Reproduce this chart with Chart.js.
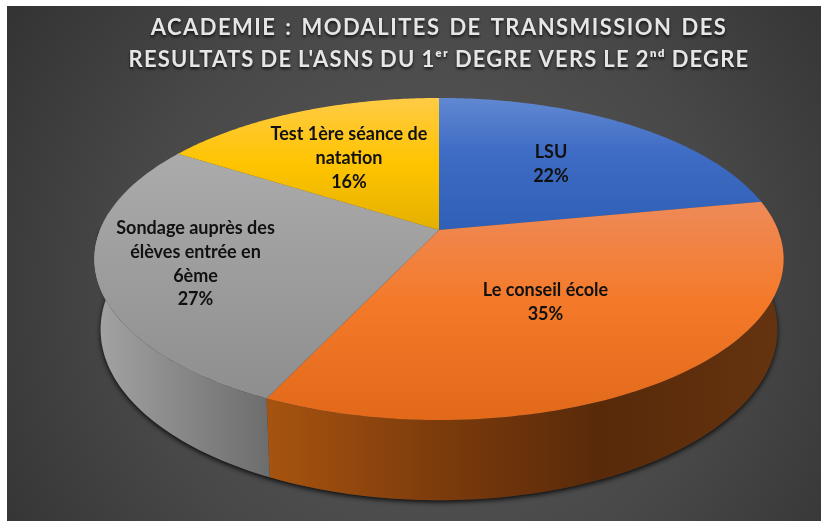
<!DOCTYPE html>
<html><head><meta charset="utf-8">
<style>html,body{margin:0;padding:0;background:#fff}canvas{display:block}</style>
<script src="https://cdn.jsdelivr.net/npm/chart.js@4"></script>
</head><body><canvas id="c" width="821" height="521"></canvas>
<script>
const categories = ["LSU", "Le conseil école", "Sondage auprès des élèves entrée en 6ème", "Test 1ère séance de natation"];
const values = [22, 35, 27, 16];
const titleLines = ["ACADEMIE : MODALITES DE TRANSMISSION DES", "RESULTATS DE L'ASNS DU 1ᵉʳ DEGRE VERS LE 2ⁿᵈ DEGRE"];
const labelLines = [["LSU"], ["Le conseil école"], ["Sondage auprès des", "élèves entrée en", "6ème"], ["Test 1ère séance de", "natation"]];

// perspective view of the pie: top disc and lower disc
const VIEW = {cx: 439, cy: 230, rx: 339, ry: 155.8, k: 0.18, shrink: 0.982, yScale: 1.06, yShift: 55};
const PANEL = {x: 7, y: 6, w: 814, h: 515};
function upper(a, r) {
  const u = Math.cos(a) * r, v = Math.sin(a) * r, d = 1 - VIEW.k * v;
  return [VIEW.cx + VIEW.rx * u / d, VIEW.cy + VIEW.ry * v / d];
}
function lower(a) {
  const p = upper(a, 1);
  return [VIEW.cx + (p[0] - VIEW.cx) * VIEW.shrink, p[1] * VIEW.yScale + VIEW.yShift];
}
function grad(ctx, x0, y0, x1, y1, stops) {
  const g = ctx.createLinearGradient(x0, y0, x1, y1);
  stops.forEach(s => g.addColorStop(s[0], s[1]));
  return g;
}
const topStops = [
  [[0,"#6088d2"],[0.4,"#3f6cc4"],[1,"#2f5fb6"]],
  [[0,"#ee8a58"],[0.45,"#f47a2a"],[1,"#e2691a"]],
  [[0,"#ababab"],[1,"#8e8e8e"]],
  [[0,"#ffcb45"],[0.5,"#ffc400"],[1,"#e3b000"]]
];
const topRange = [[98,231],[203,420],[154,398],[98,231]];
const sideStops = {
  1: [[272,"#a6530f"],[440,"#7c3b0c"],[600,"#582a0a"],[780,"#65330f"]],
  2: [[100,"#a2a2a2"],[190,"#858585"],[272,"#6c6c6c"]]
};
Chart.ArcElement.prototype.draw = function (ctx) {
  const {startAngle, endAngle} = this.getProps(['startAngle', 'endAngle'], true);
  const i = this.$context.dataIndex;
  ctx.save();
  ctx.beginPath();
  ctx.moveTo(VIEW.cx, VIEW.cy);
  const n = 90;
  for (let s = 0; s <= n; s++) {
    const p = upper(startAngle + (endAngle - startAngle) * s / n, 1);
    ctx.lineTo(p[0], p[1]);
  }
  ctx.closePath();
  ctx.fillStyle = grad(ctx, 0, topRange[i][0], 0, topRange[i][1], topStops[i]);
  ctx.fill();
  ctx.restore();
};
const pie3d = {
  id: 'pie3d',
  beforeDraw(chart) {
    const c = chart.ctx;
    c.save();
    c.fillStyle = '#fff';
    c.fillRect(0, 0, 821, 521);
    const g = c.createRadialGradient(430, 290, 40, 430, 290, 560);
    g.addColorStop(0, '#585858');
    g.addColorStop(0.5, '#484848');
    g.addColorStop(1, '#2e2e2e');
    c.fillStyle = g;
    c.fillRect(PANEL.x, PANEL.y, PANEL.w, PANEL.h);
    // title
    c.font = 'bold 22px Lato';
    c.textAlign = 'center';
    c.textBaseline = 'middle';
    c.fillStyle = '#e6e6e6';
    c.shadowColor = 'rgba(0,0,0,.75)';
    c.shadowBlur = 3;
    c.shadowOffsetY = 2;
    const tStyle = [{ls: '1.45px', ws: '2.2px', y: 28}, {ls: '1.2px', ws: '-0.7px', y: 60}];
    titleLines.forEach((t, i) => {
      c.letterSpacing = tStyle[i].ls;
      c.wordSpacing = tStyle[i].ws;
      c.fillText(t, 439, tStyle[i].y);
    });
    c.restore();
  },
  beforeDatasetsDraw(chart) {
    const c = chart.ctx;
    const arcs = chart.getDatasetMeta(0).data;
    const n = 60;
    c.save();
    c.shadowColor = 'rgba(0,0,0,.85)'; c.shadowBlur = 5; c.shadowOffsetY = 2;
    c.fillStyle = '#333';
    c.beginPath();
    for (let s = 0; s <= 180; s++) {
      const p = lower(s * Math.PI / 180);
      s ? c.lineTo(p[0], p[1]) : c.moveTo(p[0], p[1]);
    }
    c.lineTo(upper(Math.PI, 1)[0], upper(Math.PI, 1)[1]);
    c.lineTo(upper(0, 1)[0], upper(0, 1)[1]);
    c.closePath();
    c.fill();
    c.restore();
    [1, 2].forEach(i => {
      const a0 = arcs[i].startAngle, a1 = arcs[i].endAngle;
      const st = sideStops[i];
      const g = c.createLinearGradient(st[0][0], 0, st[st.length - 1][0], 0);
      st.forEach(s => g.addColorStop((s[0] - st[0][0]) / (st[st.length - 1][0] - st[0][0]), s[1]));
      c.fillStyle = g;
      c.beginPath();
      const from = Math.max(a0, -0.12), to = Math.min(a1, Math.PI + 0.12);
      for (let s = 0; s <= n; s++) {
        const p = upper(from + (to - from) * s / n, 1);
        s ? c.lineTo(p[0], p[1]) : c.moveTo(p[0], p[1]);
      }
      for (let s = n; s >= 0; s--) {
        const p = lower(from + (to - from) * s / n);
        c.lineTo(p[0], p[1]);
      }
      c.closePath();
      c.fill();
    });
  },
  afterDatasetsDraw(chart) {
    const c = chart.ctx;
    c.save();
    c.fillStyle = '#111';
    c.textAlign = 'center';
    c.textBaseline = 'middle';
    c.font = 'bold 18px Lato';
    const centers = [[551, 164], [545.5, 302], [195.5, 264], [349, 158]];
    values.forEach((v, i) => {
      const lines = labelLines[i].concat(v + '%');
      const pitch = 23.7;
      lines.forEach((t, j) => c.fillText(t, centers[i][0], centers[i][1] + (j - (lines.length - 1) / 2) * pitch));
    });
    c.restore();
  }
};
new Chart(document.getElementById('c'), {
  type: 'pie',
  data: {labels: categories, datasets: [{data: values, borderWidth: 0, backgroundColor: ['#4472c4', '#ed7d31', '#a5a5a5', '#ffc000']}]},
  plugins: [pie3d],
  options: {
    responsive: false, animation: false, devicePixelRatio: 1,
    plugins: {legend: {display: false}, tooltip: {enabled: false}, title: {display: false}}
  }
});
</script></body></html>
